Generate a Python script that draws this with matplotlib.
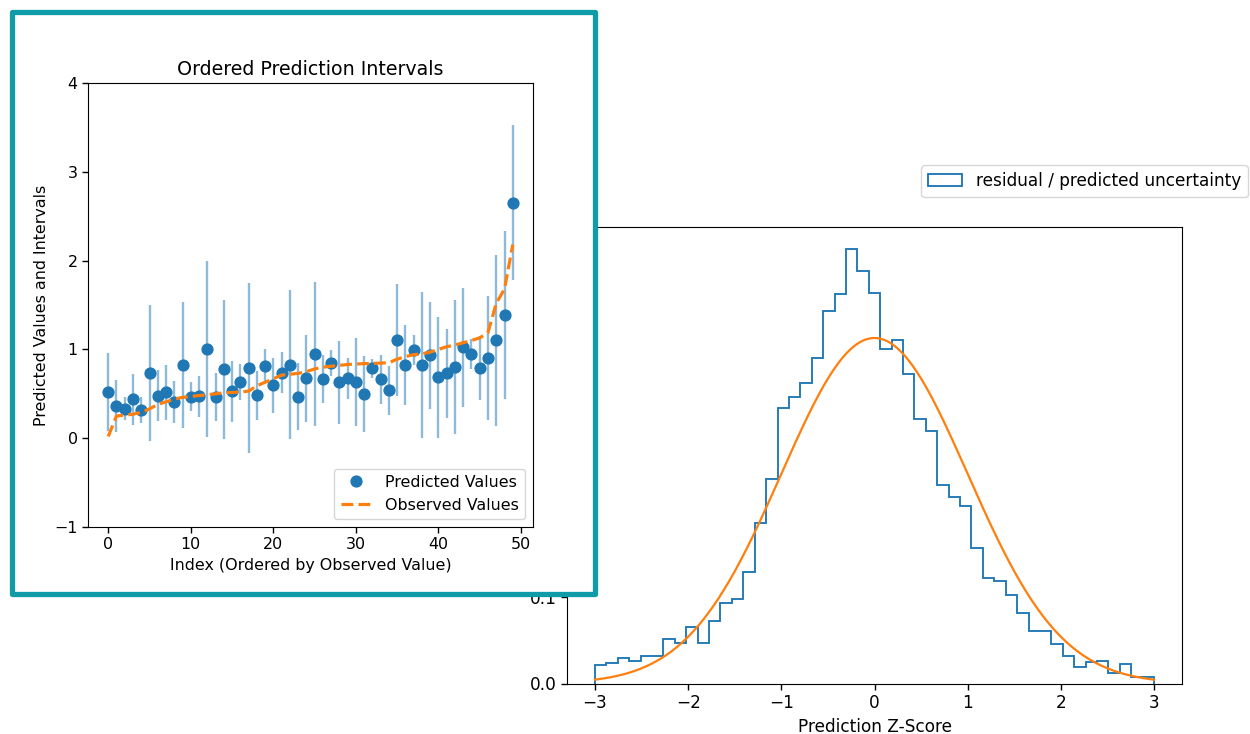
import matplotlib
matplotlib.use("Agg")
import matplotlib.pyplot as plt
import numpy as np
from matplotlib.patches import Rectangle

# --- Z-score histogram (density per bin, 49 bins on [-3, 3]) ---
Z_EDGES = np.linspace(-3, 3, 50)
Z_DENSITY = [
    0.021, 0.024, 0.030, 0.026, 0.032, 0.032, 0.051, 0.047, 0.065, 0.047,
    0.072, 0.093, 0.097, 0.129, 0.185, 0.236, 0.318, 0.331, 0.347, 0.376,
    0.430, 0.450, 0.502, 0.476, 0.451, 0.386, 0.397, 0.357, 0.305, 0.292,
    0.229, 0.215, 0.205, 0.157, 0.122, 0.118, 0.102, 0.081, 0.061, 0.061,
    0.046, 0.032, 0.019, 0.025, 0.026, 0.012, 0.022, 0.007, 0.007,
]

# --- ordered prediction intervals ---
PREDICTED = [
    0.519, 0.362, 0.332, 0.437, 0.317, 0.738, 0.478, 0.519, 0.407, 0.827,
    0.467, 0.474, 1.000, 0.467, 0.775, 0.527, 0.632, 0.789, 0.482, 0.812,
    0.595, 0.738, 0.827, 0.467, 0.673, 0.944, 0.662, 0.846, 0.628, 0.677,
    0.632, 0.501, 0.786, 0.662, 0.538, 1.105, 0.827, 0.989, 0.827, 0.932,
    0.685, 0.733, 0.801, 1.023, 0.947, 0.790, 0.902, 1.101, 1.386, 2.652,
]
INTERVAL = [
    0.44, 0.29, 0.13, 0.285, 0.15, 0.766, 0.285, 0.31, 0.235, 0.71,
    0.165, 0.23, 0.99, 0.27, 0.78, 0.34, 0.20, 0.96, 0.28, 0.19,
    0.31, 0.23, 0.84, 0.38, 0.49, 0.81, 0.27, 0.15, 0.47, 0.23,
    0.50, 0.43, 0.11, 0.28, 0.28, 0.63, 0.45, 0.17, 0.82, 0.60,
    0.68, 0.50, 0.75, 0.67, 0.17, 0.36, 0.70, 0.96, 0.95, 0.87,
]
OBSERVED = [
    0.02, 0.25, 0.26, 0.27, 0.29, 0.33, 0.38, 0.41, 0.44, 0.46,
    0.47, 0.48, 0.49, 0.50, 0.51, 0.515, 0.52, 0.53, 0.59, 0.63,
    0.67, 0.71, 0.72, 0.73, 0.75, 0.78, 0.80, 0.81, 0.82, 0.83,
    0.835, 0.84, 0.842, 0.846, 0.85, 0.89, 0.92, 0.94, 0.95, 0.97,
    1.00, 1.03, 1.05, 1.075, 1.10, 1.13, 1.19, 1.52, 1.68, 2.18,
]

W, H = 1250, 734
MAIN_FS = 12.2
INSET_FS = 11.4
FRAME_COLOR = "#0f9ba8"


def px_box(left, top, right, bottom):
    '''pixel box (top-left origin) -> figure fraction [l, b, w, h]'''
    return [left / W, 1 - bottom / H, (right - left) / W, (bottom - top) / H]


fig = plt.figure(figsize=(W / 100, H / 100), dpi=100)

# --- calibration histogram ---
ax = fig.add_axes(px_box(567, 227, 1182, 683.5), zorder=0)
centers = 0.5 * (Z_EDGES[:-1] + Z_EDGES[1:])
ax.hist(centers, bins=Z_EDGES, weights=Z_DENSITY, histtype="step",
        color="C0", linewidth=1.35, label="residual / predicted uncertainty")
z = np.linspace(-3, 3, 300)
ax.plot(z, np.exp(-z ** 2 / 2) / np.sqrt(2 * np.pi), color="C1", linewidth=1.6)
ax.set_xlabel("Prediction Z-Score", fontsize=MAIN_FS)
ax.tick_params(labelsize=MAIN_FS, length=4.2, width=1.0)
ax.legend(loc="upper left", bbox_to_anchor=(913 / W, 1 - 157 / H),
          bbox_transform=fig.transFigure, fontsize=MAIN_FS)

# --- framed panel on top ---
frame = Rectangle((12 / W, 1 - 593.5 / H), (594.5 - 12) / W, (593.5 - 12) / H,
                  transform=fig.transFigure, facecolor="white",
                  edgecolor=FRAME_COLOR, linewidth=3.8, joinstyle="round",
                  zorder=1.5)
fig.patches.append(frame)

ax2 = fig.add_axes(px_box(88, 83, 533, 527), zorder=2)
idx = np.arange(len(PREDICTED))
ax2.errorbar(idx, PREDICTED, yerr=INTERVAL, fmt="none", ecolor="C0",
             alpha=0.5, elinewidth=1.7)
ax2.plot(idx, PREDICTED, "o", color="C0", markersize=7.8, label="Predicted Values")
ax2.plot(idx, OBSERVED, "--", color="C1", linewidth=2.3, label="Observed Values")
ax2.set_ylim(-1, 4)
ax2.set_title("Ordered Prediction Intervals", fontsize=13.7)
ax2.set_xlabel("Index (Ordered by Observed Value)", fontsize=INSET_FS)
ax2.set_ylabel("Predicted Values and Intervals", fontsize=INSET_FS)
ax2.tick_params(labelsize=INSET_FS, length=4.0, width=1.0)
ax2.legend(loc="lower right", fontsize=INSET_FS)

fig.savefig("out.png", dpi=100)
